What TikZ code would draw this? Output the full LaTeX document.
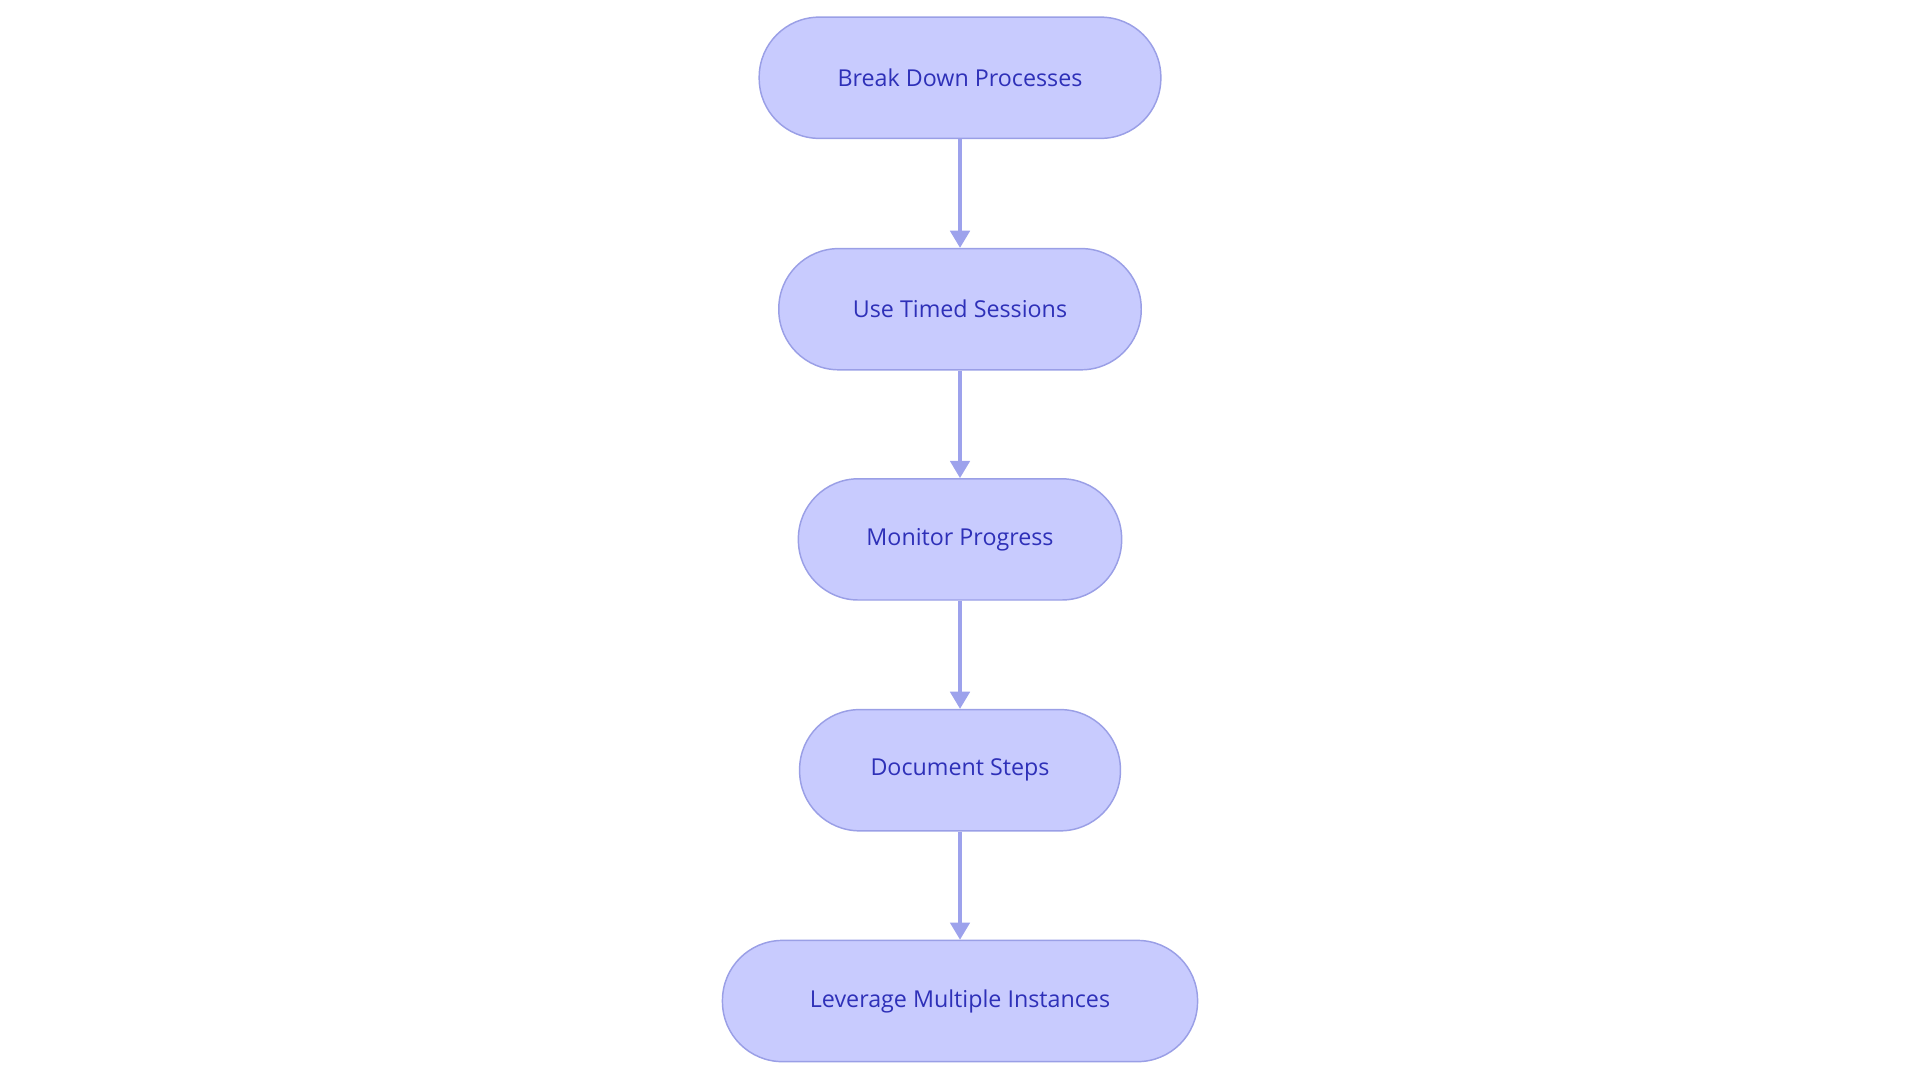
\documentclass[tikz,border=0pt]{standalone}
\usepackage{fontspec}
\setmainfont{Open Sans}
\usetikzlibrary{arrows.meta}
\definecolor{stepfill}{HTML}{C8CBFE}
\definecolor{stepdraw}{HTML}{9A9FE6}
\definecolor{steptext}{HTML}{2E30B8}
\definecolor{steparrow}{HTML}{9DA2EC}
\tikzset{
  stepbox/.style={draw=stepdraw, fill=stepfill, text=steptext, line width=1.2pt,
    rounded corners=49pt, minimum height=99pt, inner sep=0pt,
    font=\fontsize{19pt}{23pt}\selectfont},
  flow/.style={draw=steparrow, line width=2.5pt, -{Triangle[length=14pt,width=16pt]}}
}
\begin{document}
\begin{tikzpicture}[x=1pt, y=-1pt]
  \useasboundingbox (0,0) rectangle (1568,884);
  \node[stepbox, minimum width=328pt] (break) at (784, 63.5) {Break Down Processes};
  \node[stepbox, minimum width=296pt] (timed) at (784, 252.5) {Use Timed Sessions};
  \node[stepbox, minimum width=264pt] (monitor) at (784, 440.5) {Monitor Progress};
  \node[stepbox, minimum width=262pt] (document) at (784, 629) {Document Steps};
  \node[stepbox, minimum width=388pt] (leverage) at (784, 817.5) {Leverage Multiple Instances};

  \draw[flow] (break) -- (timed);
  \draw[flow] (timed) -- (monitor);
  \draw[flow] (monitor) -- (document);
  \draw[flow] (document) -- (leverage);
\end{tikzpicture}
\end{document}
